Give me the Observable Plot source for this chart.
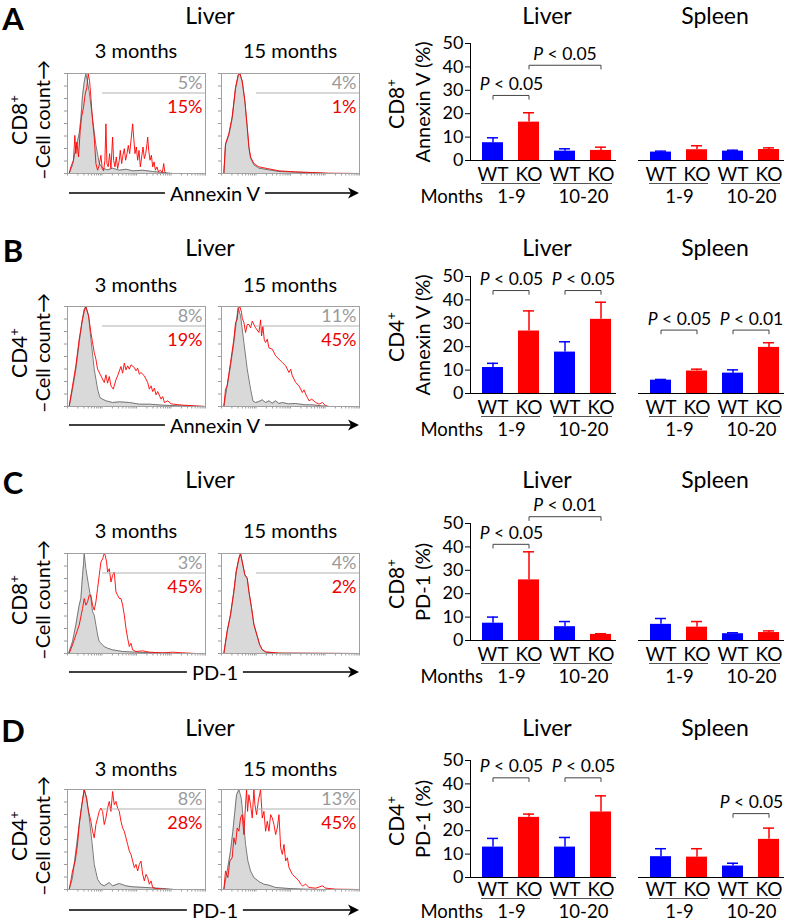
<!DOCTYPE html>
<html><head><meta charset="utf-8">
<script src="https://cdn.jsdelivr.net/npm/d3@7"></script>
<script src="https://cdn.jsdelivr.net/npm/@observablehq/plot@0.6"></script>
<style>
body{margin:0;background:#fff;}
#fig{position:relative;width:785px;height:921px;overflow:hidden;font-family:Lato,"Open Sans",sans-serif;color:#000;background:#fff;}
.t{position:absolute;white-space:nowrap;line-height:1;transform:translate(-50%,-50%);}
.r{transform:translate(-50%,-50%) rotate(-90deg);}
.abs{position:absolute;}
.sup{font-size:0.62em;vertical-align:0.55em;}
</style></head><body><div id="fig"></div>
<script>
// ---------- categories ----------
const groups = ["WT|1-9", "KO|1-9", "WT|10-20", "KO|10-20"];
const tissues = ["Liver", "Spleen"];
const yTicks = [0, 10, 20, 30, 40, 50];

// ---------- bar values (mean, upper end of error bar) ----------
const aLiverMean = [7.6, 16.4, 4.0, 4.3];
const aLiverUpper = [9.7, 20.4, 5.0, 5.7];
const aSpleenMean = [3.6, 4.6, 4.0, 4.7];
const aSpleenUpper = [4.0, 6.3, 4.4, 5.4];

const bLiverMean = [11.1, 26.7, 17.7, 31.7];
const bLiverUpper = [12.9, 35.3, 22.1, 39.0];
const bSpleenMean = [5.7, 9.6, 8.7, 19.7];
const bSpleenUpper = [6.0, 10.4, 10.1, 21.7];

const cLiverMean = [7.4, 25.9, 5.9, 2.6];
const cLiverUpper = [10.0, 37.9, 8.1, 2.9];
const cSpleenMean = [6.9, 5.7, 2.9, 3.4];
const cSpleenUpper = [9.4, 8.1, 3.3, 4.1];

const dLiverMean = [13.0, 25.7, 13.0, 28.0];
const dLiverUpper = [16.7, 27.1, 17.1, 34.9];
const dSpleenMean = [8.9, 8.7, 4.9, 16.3];
const dSpleenUpper = [12.3, 12.3, 6.1, 21.1];

// ---------- significance brackets: tissue, from, to, height, label ----------
const aBrackets = [["Liver", "WT|1-9", "KO|1-9", 27.8, "P < 0.05"], ["Liver", "KO|1-9", "KO|10-20", 40.7, "P < 0.05"]];
const bBrackets = [["Liver", "WT|1-9", "KO|1-9", 44, "P < 0.05"], ["Liver", "WT|10-20", "KO|10-20", 44, "P < 0.05"],
                   ["Spleen", "WT|1-9", "KO|1-9", 27.1, "P < 0.05"], ["Spleen", "WT|10-20", "KO|10-20", 27.1, "P < 0.01"]];
const cBrackets = [["Liver", "WT|1-9", "KO|1-9", 41.1, "P < 0.05"], ["Liver", "KO|1-9", "KO|10-20", 52.9, "P < 0.01"]];
const dBrackets = [["Liver", "WT|1-9", "KO|1-9", 42.6, "P < 0.05"], ["Liver", "WT|10-20", "KO|10-20", 42.6, "P < 0.05"],
                   ["Spleen", "WT|10-20", "KO|10-20", 27.3, "P < 0.05"]];

// ---------- flow histograms: [channel, count] ----------
const hA3Gray = [[5,0],[15,26],[25,76],[35,121],[40,166],[45,236],[50,276],[55,302],[60,276],[65,246],[75,166],[85,86],[95,31],[105,16],[120,11],[135,16],[155,10],[175,13],[195,8],[225,10],[255,6],[285,3],[315,0],[413,0]];
const hA3Red = [[5,0],[10,20],[18,40],[22,115],[25,60],[28,95],[33,50],[38,130],[42,170],[48,200],[53,240],[58,260],[62,302],[66,280],[70,230],[75,160],[80,110],[85,30],[90,10],[95,25],[100,55],[104,15],[108,8],[112,40],[115,150],[118,30],[122,20],[126,60],[130,15],[135,110],[138,40],[142,20],[146,50],[150,15],[155,40],[158,70],[162,30],[166,55],[170,75],[174,40],[178,60],[182,85],[186,60],[190,100],[195,150],[198,110],[202,60],[206,80],[210,40],[214,70],[218,20],[222,50],[226,80],[230,45],[234,60],[238,90],[240,110],[243,70],[247,40],[251,55],[255,20],[259,35],[263,10],[268,20],[272,5],[278,10],[284,3],[288,30],[291,5],[296,0],[413,0]];
const hA15Gray = [[7,0],[12,86],[22,116],[32,166],[42,256],[50,296],[55,302],[62,276],[70,216],[77,136],[82,76],[87,46],[97,26],[112,16],[142,11],[172,6],[222,4],[272,2],[320,0],[412,0]];
const hA15Red = [[7,0],[12,90],[22,120],[32,172],[42,260],[50,298],[55,302],[62,280],[70,220],[77,142],[82,82],[87,50],[97,30],[112,20],[142,14],[172,8],[222,5],[272,3],[320,1],[412,0]];

const hB3Gray = [[5,0],[15,52],[25,112],[35,192],[43,252],[50,292],[55,300],[63,272],[70,202],[80,112],[90,52],[97,27],[105,22],[115,17],[135,12],[155,14],[185,12],[215,7],[245,7],[285,4],[335,2],[413,0]];
const hB3Red = [[5,0],[15,62],[25,122],[35,202],[45,262],[50,285],[55,300],[63,272],[70,222],[80,162],[85,142],[90,112],[100,92],[110,72],[115,95],[120,70],[125,90],[130,62],[137,52],[145,80],[150,92],[160,120],[165,100],[170,130],[175,110],[180,122],[185,112],[190,125],[200,117],[205,107],[210,115],[215,97],[220,102],[230,92],[240,72],[245,52],[250,62],[255,45],[260,55],[265,35],[270,45],[280,22],[285,30],[290,12],[300,17],[310,8],[325,6],[345,4],[380,2],[413,0]];
const hB15Gray = [[7,0],[17,62],[27,122],[37,192],[44,252],[50,297],[57,272],[67,192],[77,112],[87,52],[94,17],[102,12],[112,15],[122,20],[132,12],[142,17],[152,10],[162,17],[172,9],[182,12],[200,8],[222,9],[250,5],[272,5],[300,2],[322,0],[412,0]];
const hB15Red = [[7,0],[12,52],[17,62],[27,132],[37,202],[42,252],[47,262],[50,292],[55,300],[60,282],[62,265],[67,252],[72,222],[77,246],[82,246],[87,236],[92,256],[102,236],[112,222],[117,260],[120,212],[124,240],[128,200],[132,192],[137,202],[142,176],[152,172],[162,152],[172,142],[182,132],[192,122],[202,102],[207,112],[212,92],[222,72],[232,62],[242,42],[247,50],[252,37],[257,27],[262,17],[270,22],[282,12],[292,7],[302,12],[312,2],[322,0],[412,0]];

const hC3Gray = [[3,0],[15,36],[25,86],[35,146],[40,166],[45,236],[48,270],[50,302],[55,256],[63,206],[70,166],[75,126],[80,116],[85,86],[90,56],[95,36],[105,26],[110,21],[120,16],[135,11],[165,6],[205,4],[260,2],[320,0],[413,0]];
const hC3Red = [[5,0],[15,26],[25,56],[35,86],[45,136],[50,166],[55,146],[60,156],[65,176],[70,176],[75,146],[80,131],[85,156],[90,196],[95,236],[100,276],[105,286],[110,302],[113,296],[117,276],[120,246],[125,256],[130,216],[135,236],[140,246],[145,186],[150,176],[155,166],[160,166],[165,146],[170,116],[175,76],[180,46],[185,21],[190,31],[195,11],[205,6],[225,8],[245,4],[285,2],[315,4],[345,2],[385,0],[413,0]];
const hC15Gray = [[7,0],[17,66],[27,116],[37,186],[44,246],[52,286],[57,302],[62,276],[70,236],[77,226],[82,186],[90,136],[97,86],[107,51],[114,26],[122,11],[132,4],[172,1],[412,0]];
const hC15Red = [[7,0],[17,68],[27,118],[37,188],[44,248],[52,288],[57,302],[62,278],[70,238],[77,228],[82,188],[90,138],[97,88],[107,53],[114,28],[122,12],[132,5],[172,1],[412,0]];

const hD3Gray = [[5,0],[15,36],[25,116],[35,196],[43,256],[50,302],[57,276],[65,216],[73,146],[80,76],[90,31],[100,16],[110,11],[125,21],[135,11],[155,18],[175,11],[195,8],[235,6],[285,3],[320,0],[413,0]];
const hD3Red = [[5,0],[10,26],[15,56],[23,86],[30,136],[35,196],[43,256],[50,302],[57,276],[63,236],[70,206],[75,176],[80,156],[85,196],[90,216],[95,236],[100,246],[105,236],[110,196],[115,216],[120,246],[125,266],[130,236],[135,296],[140,256],[145,266],[150,246],[155,236],[160,206],[165,186],[170,176],[175,156],[180,136],[185,116],[190,106],[195,86],[200,66],[205,76],[210,56],[215,76],[220,86],[225,46],[230,26],[235,46],[240,36],[245,16],[250,26],[255,6],[265,3],[285,1],[305,0],[413,0]];
const hD15Gray = [[7,0],[17,56],[27,116],[34,176],[40,236],[45,286],[52,302],[59,276],[65,216],[72,136],[79,86],[87,56],[97,36],[112,24],[127,16],[142,13],[162,6],[202,3],[250,1],[300,0],[412,0]];
const hD15Red = [[7,0],[12,56],[19,36],[25,86],[32,96],[37,156],[42,136],[47,186],[52,176],[57,216],[62,226],[67,166],[72,256],[75,302],[78,236],[82,286],[87,256],[92,216],[97,302],[100,256],[105,226],[110,266],[117,302],[122,216],[127,236],[132,176],[137,206],[142,176],[147,226],[152,216],[157,196],[162,166],[167,186],[172,226],[177,126],[182,106],[187,136],[192,86],[197,96],[202,66],[212,46],[222,36],[232,26],[237,16],[242,11],[252,16],[262,6],[282,4],[302,11],[312,4],[342,1],[412,0]];

// gated percentages [control (grey), knockout (red)]
const aPct3 = ["5%", "15%"], aPct15 = ["4%", "1%"];
const bPct3 = ["8%", "19%"], bPct15 = ["11%", "45%"];
const cPct3 = ["3%", "45%"], cPct15 = ["4%", "2%"];
const dPct3 = ["8%", "28%"], dPct15 = ["13%", "45%"];

// ---------- row options ----------
const rows = [
  {letter: "A", cell: "CD8", marker: "Annexin V", means: [aLiverMean, aSpleenMean], uppers: [aLiverUpper, aSpleenUpper], brackets: aBrackets,
   h3: [hA3Gray, hA3Red], h15: [hA15Gray, hA15Red], p3: aPct3, p15: aPct15, ymax: 302,
   titleY: 15, monthsY: 50, histTop: 73, arrowY: 193, y50: 43, y0: 160, lab: [14, 23, 37]},
  {letter: "B", cell: "CD4", marker: "Annexin V", means: [bLiverMean, bSpleenMean], uppers: [bLiverUpper, bSpleenUpper], brackets: bBrackets,
   h3: [hB3Gray, hB3Red], h15: [hB15Gray, hB15Red], p3: bPct3, p15: bPct15, ymax: 300,
   titleY: 247, monthsY: 284, histTop: 306, arrowY: 425, y50: 276, y0: 393, lab: [14, 23, 37]},
  {letter: "C", cell: "CD8", marker: "PD-1", means: [cLiverMean, cSpleenMean], uppers: [cLiverUpper, cSpleenUpper], brackets: cBrackets,
   h3: [hC3Gray, hC3Red], h15: [hC15Gray, hC15Red], p3: cPct3, p15: cPct15, ymax: 302,
   titleY: 479, monthsY: 530, histTop: 553, arrowY: 672, y50: 523, y0: 640, lab: [14, 23, 37]},
  {letter: "D", cell: "CD4", marker: "PD-1", means: [dLiverMean, dSpleenMean], uppers: [dLiverUpper, dSpleenUpper], brackets: dBrackets,
   h3: [hD3Gray, hD3Red], h15: [hD15Gray, hD15Red], p3: dPct3, p15: dPct15, ymax: 302,
   titleY: 727, monthsY: 768, histTop: 789, arrowY: 910, y50: 760, y0: 877, lab: [12.5, 21, 34.5]}
];

const FONT = "Lato, 'Open Sans', sans-serif";
const fig = document.getElementById("fig");

function txt(html, x, y, size, cls = "", style = {}) {
  const d = document.createElement("div");
  d.className = "t " + cls;
  d.style.left = x + "px"; d.style.top = y + "px"; d.style.fontSize = size + "px";
  Object.assign(d.style, style);
  d.innerHTML = html;
  fig.appendChild(d);
  return d;
}
function place(svg, left, top) {
  svg.classList.add("abs");
  svg.style.left = left + "px"; svg.style.top = top + "px";
  fig.appendChild(svg);
}

// flow histogram
function hist([gray, red], pct, ymax, left, top) {
  const W = 138, H = 100, XMAX = 413;
  const xt = [];
  for (let d = 0; d < 4; d++) for (let k = 1; k < 10; k++) xt.push((d + Math.log10(k)) * XMAX / 4);
  xt.push(XMAX);
  const yt = d3.range(0, 9).map(i => i * ymax / 8);
  const gx = d => d[0], gy = d => d[1];
  const svg = Plot.plot({
    width: W + 7, height: H + 8, marginLeft: 5, marginRight: 2, marginTop: 2, marginBottom: 6,
    x: {domain: [0, XMAX], ticks: xt, tickSize: 2.5, tickFormat: () => "", label: null},
    y: {domain: [0, ymax], ticks: yt, tickSize: 3, tickFormat: () => "", label: null},
    style: {background: "transparent", color: "#9a9a9a", overflow: "visible", fontFamily: FONT},
    marks: [
      Plot.areaY(gray, {x: gx, y: gy, fill: "#d9d9d9"}),
      Plot.lineY(gray, {x: gx, y: gy, stroke: "#6a6a6a", strokeWidth: 0.9}),
      Plot.lineY(red, {x: gx, y: gy, stroke: "#ff0000", strokeWidth: 0.9}),
      Plot.ruleY([ymax * 0.805], {x1: 105, x2: XMAX, stroke: "#b0b0b0", strokeWidth: 1}),
      Plot.text([pct[0]], {x: XMAX, y: ymax * 0.9, text: d => d, textAnchor: "end", dx: -3, fill: "#9a9a9a", fontSize: 18}),
      Plot.text([pct[1]], {x: XMAX, y: ymax * 0.665, text: d => d, textAnchor: "end", dx: -3, fill: "#ee0000", fontSize: 18}),
      Plot.frame({stroke: "#a0a0a0"})
    ]
  });
  place(svg, left, top);
}

// bar chart (Liver + Spleen facets)
function bars(r) {
  const width = 355, mL = 40, mT = 40, mB = Math.min(50, 921 - r.y0);
  const frameH = r.y0 - r.y50;
  const [genoDy, underDy, monthsDy] = r.lab;
  const fxPI = 0.13, xPI = 0.43, xPO = 0.2, xAlign = 0.7;
  const facetBW = (width - mL) / (2 - fxPI) * (1 - fxPI);
  const step = facetBW / (4 - xPI + 2 * xPO);
  const table = [];
  tissues.forEach((t, ti) => groups.forEach((g, gi) => table.push({
    tissue: t, cat: g, geno: g.split("|")[0], mean: r.means[ti][gi], upper: r.uppers[ti][gi]})));
  const col = d => d.geno === "WT" ? "#0000ff" : "#ff0000";
  const under = [];
  tissues.forEach(t => [[0, 1], [2, 3]].forEach(([i, j]) => under.push({tissue: t, from: groups[i], to: groups[j], months: groups[i].split("|")[1]})));
  const drop = 1.6;
  const bl = [], bt = [];
  r.brackets.forEach(([t, from, to, h, label], k) => {
    [[from, h - drop], [from, h], [to, h], [to, h - drop]].forEach(([c, v]) => bl.push({tissue: t, id: k, cat: c, v}));
    const i = groups.indexOf(from), j = groups.indexOf(to);
    bt.push({tissue: t, cat: groups[Math.floor((i + j) / 2)], odd: (i + j) % 2 === 1, h, label});
  });
  const svg = Plot.plot({
    width, height: mT + frameH + mB, marginLeft: mL, marginRight: 0, marginTop: mT, marginBottom: mB,
    fx: {domain: tissues, paddingInner: fxPI, paddingOuter: 0, axis: null, label: null},
    x: {domain: groups, paddingInner: xPI, paddingOuter: xPO, align: xAlign, axis: null},
    y: {domain: [0, 50], ticks: yTicks, tickSize: 5, tickPadding: 2, line: true, label: null},
    color: {type: "identity"},
    style: {fontFamily: FONT, fontSize: "18px", background: "transparent", color: "#000", overflow: "visible"},
    marks: [
      Plot.barY(table, {fx: "tissue", x: "cat", y: "mean", fill: col}),
      Plot.ruleX(table, {fx: "tissue", x: "cat", y1: "mean", y2: "upper", stroke: col, strokeWidth: 1.5}),
      Plot.tickY(table, {fx: "tissue", x: "cat", y: "upper", stroke: col, strokeWidth: 1.5, insetLeft: 5, insetRight: 5}),
      Plot.ruleY([0], {stroke: "#000", strokeWidth: 1.2}),
      Plot.text(table, {fx: "tissue", x: "cat", y: 0, dy: genoDy, text: "geno", fontSize: 19}),
      Plot.ruleY(under, {fx: "tissue", x1: "from", x2: "to", y: 0, dy: underDy, stroke: "#555", strokeWidth: 1, insetLeft: -1, insetRight: -1}),
      Plot.text(under, {fx: "tissue", x: "from", y: 0, dy: monthsDy, dx: step / 2, text: "months", fontSize: 18.5}),
      Plot.text([{tissue: "Liver"}], {fx: "tissue", x: () => groups[0], y: 0, dy: monthsDy, dx: -10, text: () => "Months", textAnchor: "end", fontSize: 18.5}),
      Plot.line(bl, {fx: "tissue", x: "cat", y: "v", z: "id", stroke: "#444", strokeWidth: 1}),
      Plot.text(bt.filter(d => d.odd), {fx: "tissue", x: "cat", y: "h", dx: step / 2, dy: -11, text: "label", fontSize: 17.5}),
      Plot.text(bt.filter(d => !d.odd), {fx: "tissue", x: "cat", y: "h", dy: -11, text: "label", fontSize: 17.5})
    ]
  });
  svg.querySelectorAll("text").forEach(t => {
    const s = t.textContent;
    if (s.startsWith("P <")) {
      t.textContent = "";
      const a = document.createElementNS("http://www.w3.org/2000/svg", "tspan");
      a.setAttribute("font-style", "italic"); a.textContent = "P";
      const b = document.createElementNS("http://www.w3.org/2000/svg", "tspan");
      b.textContent = "\u00a0" + s.slice(1).trim();
      t.appendChild(a); t.appendChild(b);
    }
  });
  place(svg, 430, r.y50 - mT);
}

function arrow(y, label) {
  const ns = "http://www.w3.org/2000/svg";
  const s = document.createElementNS(ns, "svg");
  s.setAttribute("width", 785); s.setAttribute("height", 20);
  s.classList.add("abs"); s.style.left = "0px"; s.style.top = (y - 10) + "px";
  const l = document.createElementNS(ns, "line");
  l.setAttribute("x1", 69); l.setAttribute("x2", 352); l.setAttribute("y1", 10); l.setAttribute("y2", 10);
  l.setAttribute("stroke", "#000"); l.setAttribute("stroke-width", 1.3);
  const p = document.createElementNS(ns, "path");
  p.setAttribute("d", "M348,4.5 L359,10 L348,15.5 L351,10 Z"); p.setAttribute("fill", "#000");
  s.appendChild(l); s.appendChild(p);
  fig.appendChild(s);
  txt(label, 215, y, 20, "", {background: "#fff", padding: "0 5px"});
}

rows.forEach(r => {
  txt(r.letter, 13, r.titleY + 3, 31, "", {fontWeight: "700"});
  txt("Liver", 210, r.titleY, 23);
  txt("3 months", 136, r.monthsY, 20);
  txt("15 months", 290, r.monthsY, 20);
  hist(r.h3, r.p3, r.ymax, 62, r.histTop - 2);
  hist(r.h15, r.p15, r.ymax, 216, r.histTop - 2);
  const boxC = r.histTop + 47;
  txt(r.cell + '<span class="sup">+</span>', 18, boxC, 21, "r");
  txt("\u2013Cell count\u2192", 42, boxC, 20, "r");
  arrow(r.arrowY, r.marker);
  txt("Liver", 547, r.titleY, 23);
  txt("Spleen", 715, r.titleY, 23);
  const fc = (r.y50 + r.y0) / 2;
  txt(r.cell + '<span class="sup">+</span>', 395, fc + 2, 21, "r");
  txt(r.marker + " (%)", 422, fc, 20, "r");
  bars(r);
});
</script></body></html>
